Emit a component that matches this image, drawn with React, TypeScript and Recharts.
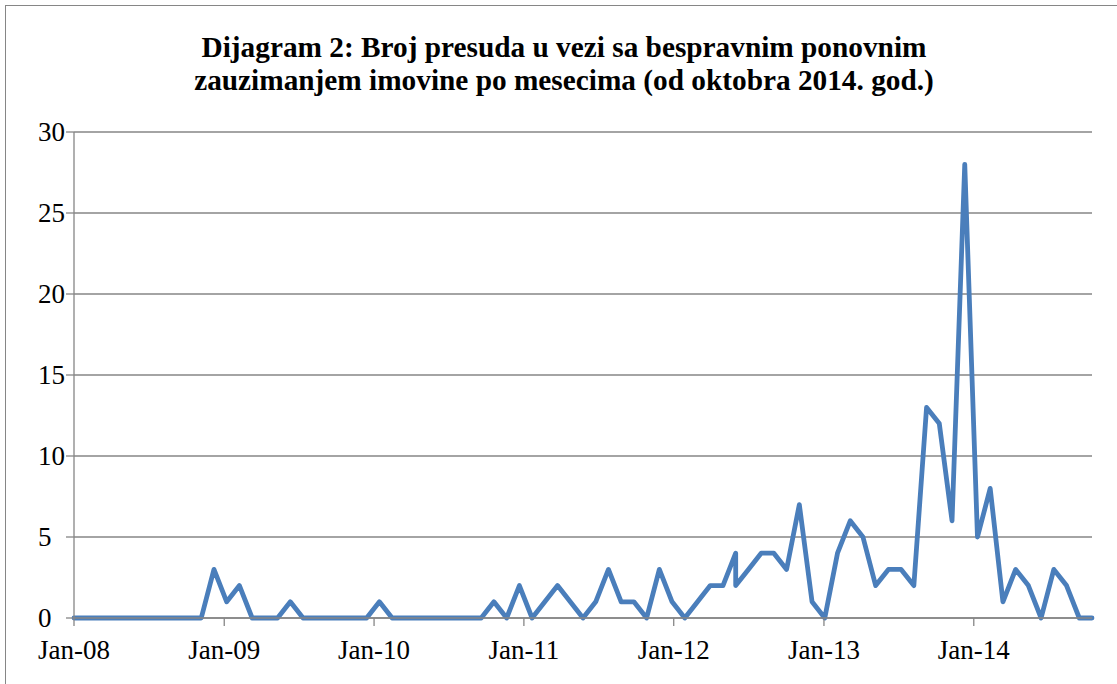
import React from 'react';
import { LineChart, Line, XAxis, YAxis, CartesianGrid } from 'recharts';

// Monthly number of judgments, Jan 2008 – Oct 2014
const judgments = [
  0, 0, 0, 0, 0, 0, 0, 0, 0, 0, 0, 3,
  1, 2, 0, 0, 0, 1, 0, 0, 0, 0, 0, 0,
  1, 0, 0, 0, 0, 0, 0, 0, 0, 1, 0, 2,
  0, 1, 2, 1, 0, 1, 3, 1, 1, 0, 3, 1,
  0, 1, 2, 2, 4, 2, 3, 4, 4, 3, 7, 1,
  0, 4, 6, 5, 2, 3, 3, 2, 13, 12, 6, 28,
  5, 8, 1, 3, 2, 0, 3, 2, 0, 0,
];

// Date of each observation on the original date axis, in days since 1 Jan 2008
const dayOffsets = [
  0, 31, 62, 93, 124, 155, 186, 217, 248, 279, 310, 341,
  372, 403, 434, 465, 496, 527, 558, 589, 620, 651, 682, 713,
  744, 775, 806, 837, 868, 899, 930, 961, 992, 1023, 1054, 1085,
  1116, 1147, 1178, 1209, 1240, 1271, 1302, 1333, 1364, 1395, 1426, 1457,
  1488, 1519, 1550, 1581, 1612, 1612, 1643, 1674, 1705, 1736, 1767, 1798,
  1829, 1860, 1891, 1922, 1953, 1984, 2015, 2046, 2077, 2108, 2139, 2170,
  2201, 2232, 2263, 2294, 2325, 2356, 2387, 2418, 2449, 2480,
];

const axisEndDay = 2480;
const yearTickDays = [0, 366, 731, 1096, 1461, 1827, 2192];
const yearTickLabels = ['Jan-08', 'Jan-09', 'Jan-10', 'Jan-11', 'Jan-12', 'Jan-13', 'Jan-14'];
const valueTicks = [0, 5, 10, 15, 20, 25, 30];

const titleLines = [
  'Dijagram 2: Broj presuda u vezi sa bespravnim ponovnim',
  'zauzimanjem imovine po mesecima (od oktobra 2014. god.)',
];

const data = dayOffsets.map((day, i) => ({ day, value: judgments[i] }));

const FONT = '"Liberation Serif", "Times New Roman", serif';
const GRAY = '#868686';

const YTick = (props: any) => {
  const { x, y, payload } = props;
  return (
    <text
      x={x - 24}
      y={y}
      dy="0.35em"
      textAnchor="start"
      fill="#000"
      fontSize={27}
      fontFamily={FONT}
    >
      {payload.value}
    </text>
  );
};

export default function App() {
  const tickStyle = { fill: '#000', fontSize: 27, fontFamily: FONT };
  return (
    <div
      style={{
        position: 'absolute',
        left: 0,
        top: 0,
        width: 1117,
        height: 684,
        overflow: 'hidden',
        background: '#fff',
        fontFamily: FONT,
      }}
    >
      <div
        style={{
          position: 'absolute',
          left: 5,
          top: 5,
          width: 1200,
          height: 800,
          border: `1px solid ${GRAY}`,
          boxSizing: 'border-box',
        }}
      />
      <div
        style={{
          position: 'absolute',
          left: 0,
          top: 31,
          width: 1128,
          textAlign: 'center',
          fontWeight: 'bold',
          fontSize: 29.3,
          lineHeight: '33px',
          color: '#000',
        }}
      >
        {titleLines.map((t) => (
          <div key={t}>{t}</div>
        ))}
      </div>
      <div style={{ position: 'absolute', left: 0, top: 0 }}>
        <LineChart
          width={1117}
          height={684}
          data={data}
          margin={{ top: 132, right: 25, bottom: 0, left: 0 }}
        >
          <CartesianGrid horizontal vertical={false} stroke={GRAY} strokeWidth={1.3} />
          <XAxis
            type="number"
            dataKey="day"
            domain={[0, axisEndDay]}
            ticks={yearTickDays}
            interval={0}
            tickFormatter={(v: number) => yearTickLabels[yearTickDays.indexOf(v)]}
            height={66}
            tickSize={8}
            tickMargin={14}
            axisLine={{ stroke: GRAY, strokeWidth: 1.3 }}
            tickLine={{ stroke: GRAY, strokeWidth: 1.3 }}
            tick={tickStyle}
          />
          <YAxis
            type="number"
            domain={[0, 30]}
            ticks={valueTicks}
            interval={0}
            width={74}
            tickSize={8}
            tickMargin={4}
            axisLine={{ stroke: GRAY, strokeWidth: 1.3 }}
            tickLine={{ stroke: GRAY, strokeWidth: 1.3 }}
            tick={YTick}
          />
          <Line
            type="linear"
            dataKey="value"
            stroke="#4a7ebb"
            strokeWidth={4.8}
            strokeLinejoin="round"
            strokeLinecap="round"
            dot={false}
            activeDot={false}
            isAnimationActive={false}
          />
        </LineChart>
      </div>
    </div>
  );
}
